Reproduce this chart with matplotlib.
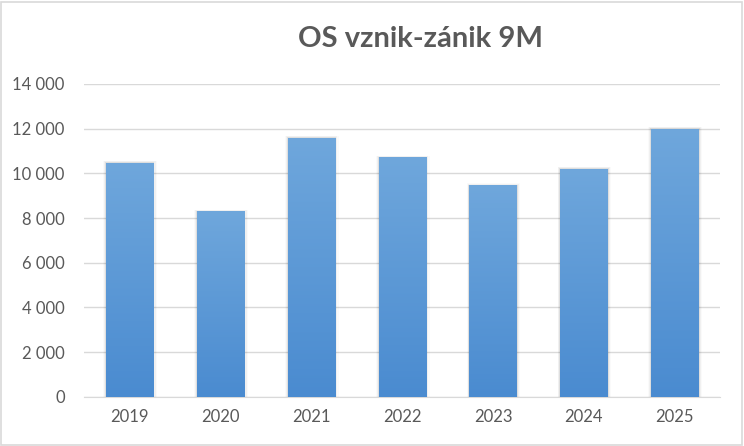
import matplotlib
matplotlib.use("Agg")
import matplotlib.pyplot as plt
import numpy as np
from matplotlib.patches import Rectangle
from matplotlib.colors import LinearSegmentedColormap

years = ["2019", "2020", "2021", "2022", "2023", "2024", "2025"]
values = [10480, 8300, 11600, 10710, 9470, 10210, 12000]
yticks = [0, 2000, 4000, 6000, 8000, 10000, 12000, 14000]
title = "OS vznik-zánik 9M"

plt.rcParams['font.family'] = ['Lato', 'DejaVu Sans']
text_col = '#595959'

fig = plt.figure(figsize=(7.44, 4.46), dpi=100)
fig.patches.append(Rectangle((0.002, 0.003), 0.995, 0.993, transform=fig.transFigure,
                             fill=False, edgecolor='#d9d9d9', lw=1.2))
ax = fig.add_axes([0.113, 0.110, 0.855, 0.702])

x = np.arange(len(years))
bars = ax.bar(x, values, width=0.52, color='#5b9bd5', zorder=3)

# gradient fill + soft shadow like Excel
cmap = LinearSegmentedColormap.from_list('g', ['#4a8bd0', '#6fa7dc'])
grad = np.linspace(0, 1, 256).reshape(-1, 1)
for b in bars:
    bx, by, bw, bh = b.get_x(), b.get_y(), b.get_width(), b.get_height()
    for k, a in enumerate([0.07, 0.04, 0.02]):
        d = 0.010 * (k + 1)
        ax.add_patch(Rectangle((bx - d, by), bw + d * 2.4, bh + 25 * (k + 1),
                               color='black', alpha=a, lw=0, zorder=2))
    im = ax.imshow(grad, aspect='auto', cmap=cmap, origin='lower',
                   extent=(bx, bx + bw, by, by + bh), zorder=3)
    im.set_clip_path(b)

ax.set_xlim(-0.5, len(years) - 0.5)
ax.set_ylim(0, 14000)
ax.set_xticks(x)
ax.set_xticklabels(years)
ax.set_yticks(yticks)
ax.set_yticklabels([f"{v:,}".replace(",", " ") for v in yticks])
ax.grid(axis='y', color='#d9d9d9', lw=1, zorder=0)
ax.set_axisbelow(True)
for s in ['top', 'right', 'left']:
    ax.spines[s].set_visible(False)
ax.spines['bottom'].set_color('#d9d9d9')
ax.tick_params(axis='both', length=0, colors=text_col, labelsize=12)
ax.tick_params(axis='y', pad=14)
ax.tick_params(axis='x', pad=9)

fig.text(0.565, 0.913, title, ha='center', va='center', fontsize=21,
         fontweight='bold', color=text_col)

fig.savefig('out.png', dpi=100)
